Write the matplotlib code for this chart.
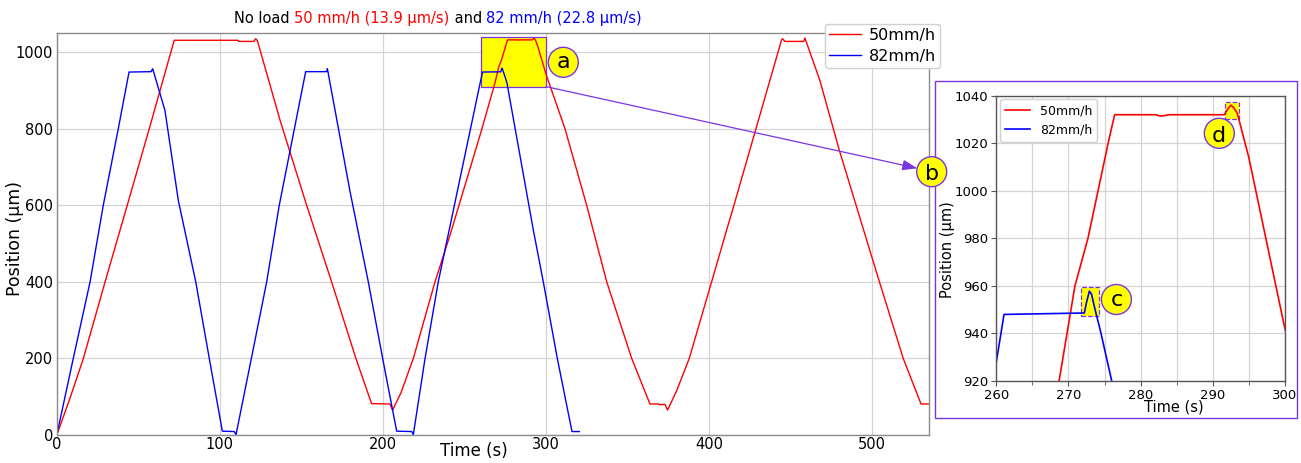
import matplotlib
matplotlib.use("Agg")
import matplotlib.pyplot as plt
from matplotlib.patches import Rectangle, Circle, ConnectionPatch
from matplotlib.offsetbox import TextArea, HPacker, AnchoredOffsetbox
from matplotlib.ticker import MultipleLocator

# ---- position traces (time in s, position in µm) ----
t_50 = [0, 8, 16.3, 29.6, 43.2, 56.7, 62, 72, 111, 111.5, 120.8, 122, 123,
        136.9, 153.2, 168.5, 183.4, 193, 204.3, 205.9, 211, 218.6, 231.9,
        241.1, 260, 268.7, 269.8, 270.9, 272.7, 274.1, 275.5, 276.4, 282.1,
        282.8, 284, 291.6, 292.1, 292.5, 292.9, 293.4, 295, 300, 311.6,
        324.9, 337.2, 352.5, 363.7, 369, 369.5, 372.9, 374.5, 380, 387.8,
        401.5, 410.7, 415.2, 428.7, 444.4, 445, 446.5, 458, 458.7, 467.9,
        479.8, 496.6, 504.4, 519, 529.9, 534.8]
pos_50 = [0, 95, 200, 400, 600, 800, 880, 1031, 1031, 1028, 1028, 1035, 1030,
          822, 600, 400, 200, 82, 81, 65, 110, 200, 400,
          522, 790, 920, 940, 960, 980, 1000, 1020, 1032, 1032,
          1031.4, 1032, 1032, 1034.5, 1036, 1035, 1032.6, 1014, 942, 800,
          600, 400, 200, 81, 81, 79, 80, 65, 115, 200,
          400, 535, 600, 800, 1032, 1035, 1028, 1028, 1037, 926,
          744, 509, 400, 200, 81, 81]

t_82 = [0, 10.1, 20.4, 28.5, 37.7, 44.3, 57.8, 58.8, 66.3, 74.5, 85.2, 93.5,
        101.5, 108.8, 109.9, 118.5, 128.7, 136.4, 152.6, 165.4, 165.9, 179.8,
        191, 199.8, 208.4, 217.6, 218.6, 225.8, 233.9, 260, 261.07, 272.2,
        272.5, 272.9, 273.2, 273.7, 274.4, 276, 292.2, 298.3, 306.9, 315.9,
        320.4]
pos_82 = [0, 200, 400, 600, 800, 948, 949, 956.6, 848, 613, 400, 200,
          10, 9, 1, 183, 400, 600, 949, 949, 957, 636,
          400, 200, 10, 9, 1, 200, 400, 928, 948, 948.6,
          953, 957.8, 956.5, 949.9, 941.5, 920, 535, 400, 200, 9,
          9]

series_labels = ["50mm/h", "82mm/h"]
series_colors = ["red", "blue"]

title_parts = [("No load ", "black"), ("50 mm/h (13.9 µm/s)", "red"),
               (" and ", "black"), ("82 mm/h (22.8 µm/s)", "blue")]

# highlighted regions (time range, position range)
region_a = ((260, 300), (910, 1040))
region_c = ((271.8, 274.3), (947.5, 959.5))
region_d = ((291.7, 293.7), (1030.2, 1037.3))

PURPLE = "#7a35e0"
W, H = 1301, 463

fig = plt.figure(figsize=(W / 100, H / 100), dpi=100)


def frac(px, py):
    return px / W, 1 - py / H


# ---- main axes ----
ax = fig.add_axes([56.8 / W, 1 - 435 / H, (929 - 56.8) / W, (435 - 33) / H])
for t, p, lab, col in zip([t_50, t_82], [pos_50, pos_82], series_labels, series_colors):
    ax.plot(t, p, color=col, lw=1.0, label=lab, zorder=2)
ax.set_xlim(0, 534.8)
ax.set_ylim(0, 1050)
ax.xaxis.set_major_locator(MultipleLocator(100))
ax.yaxis.set_major_locator(MultipleLocator(200))
ax.grid(True, color="#d4d4d4", lw=0.9)
ax.tick_params(axis="x", length=0, labelsize=10.5, pad=1.6)
ax.tick_params(axis="y", length=0, labelsize=10.5, pad=2.6)
for s in ax.spines.values():
    s.set_color("#8c8c8c")
    s.set_linewidth(1.0)
ax.set_xlabel("Time (s)", fontsize=12)
ax.set_ylabel("Position (µm)", fontsize=12.5)
ax.xaxis.set_label_coords(0.478, -0.017)
ax.yaxis.set_label_coords(-0.038, 0.49)

(ax0, ax1), (ay0, ay1) = region_a
ax.add_patch(Rectangle((ax0, ay0), ax1 - ax0, ay1 - ay0, facecolor="yellow",
                       edgecolor=PURPLE, lw=0.9, zorder=1.8))

ax.legend(loc="upper right", bbox_to_anchor=frac(940, 24), bbox_transform=fig.transFigure,
          borderaxespad=0, fontsize=11.5, framealpha=1, edgecolor="#d0d0d0",
          borderpad=0.25, labelspacing=0.35, handletextpad=0.5, handlelength=2.0)

# ---- title made of coloured pieces ----
pieces = [TextArea(txt, textprops=dict(color=c, fontsize=10.5)) for txt, c in title_parts]
title_box = HPacker(children=pieces, align="baseline", pad=0, sep=0)
fig.add_artist(AnchoredOffsetbox(loc="center", child=title_box, pad=0, borderpad=0,
                                 frameon=False, bbox_to_anchor=frac(438, 18.5),
                                 bbox_transform=fig.transFigure))

# ---- detail panel ----
fig.add_artist(Rectangle(frac(935, 418), (1297 - 935) / W, (418 - 80.5) / H,
                         transform=fig.transFigure, fill=False, edgecolor=PURPLE, lw=1.0))

ax2 = fig.add_axes([996.3 / W, 1 - 381 / H, (1284.9 - 996.3) / W, (381 - 95.7) / H])
for t, p, lab, col in zip([t_50, t_82], [pos_50, pos_82], series_labels, series_colors):
    ax2.plot(t, p, color=col, lw=1.2, label=lab, zorder=2)
ax2.set_xlim(ax0, ax1)
ax2.set_ylim(920, 1040)
ax2.xaxis.set_major_locator(MultipleLocator(10))
ax2.xaxis.set_minor_locator(MultipleLocator(5))
ax2.yaxis.set_major_locator(MultipleLocator(20))
ax2.grid(True, which="both", color="#d4d4d4", lw=0.9)
ax2.tick_params(which="major", length=3.5, labelsize=9.5, pad=2.0, color="#555555")
ax2.tick_params(which="minor", length=3, color="#555555")
for s in ax2.spines.values():
    s.set_color("#555555")
    s.set_linewidth(1.0)
ax2.set_xlabel("Time (s)", fontsize=10.5)
ax2.set_ylabel("Position (µm)", fontsize=10.5)
ax2.xaxis.set_label_coords(0.614, -0.066)
ax2.yaxis.set_label_coords(-0.143, 0.459)
ax2.legend(loc="upper left", fontsize=9, framealpha=1, edgecolor="#d0d0d0",
           borderaxespad=0.3)

for (x0, x1), (y0, y1) in (region_c, region_d):
    ax2.add_patch(Rectangle((x0, y0), x1 - x0, y1 - y0, facecolor="yellow",
                            edgecolor=PURPLE, lw=0.9, ls="--", zorder=1.8))

# ---- pointer from region a to the detail panel ----
fig.add_artist(ConnectionPatch(xyA=(ax1, ay0), coordsA=ax.transData,
                               xyB=frac(917.3, 168.3), coordsB="figure fraction",
                               arrowstyle="-|>,head_length=0.45,head_width=0.16",
                               mutation_scale=20, color=PURPLE, lw=0.9,
                               shrinkA=0, shrinkB=0, zorder=2))

# ---- lettered markers ----
markers = [("a", 563.3, 62.3, False), ("b", 931.7, 171.7, True),
           ("c", 1116.4, 299.5, False), ("d", 1219.3, 133.3, True)]
for letter, cx, cy, tall in markers:
    fig.add_artist(Circle((cx / 100, (H - cy) / 100), 15 / 100, transform=fig.dpi_scale_trans,
                          facecolor="yellow", edgecolor=PURPLE, lw=1.0, zorder=3))
    base = cy + (8.2 if tall else 6.0)
    fig.text(*frac(cx, base), letter, ha="center", va="baseline", fontsize=16,
             color="black", zorder=4)

fig.savefig("out.png", dpi=100)
